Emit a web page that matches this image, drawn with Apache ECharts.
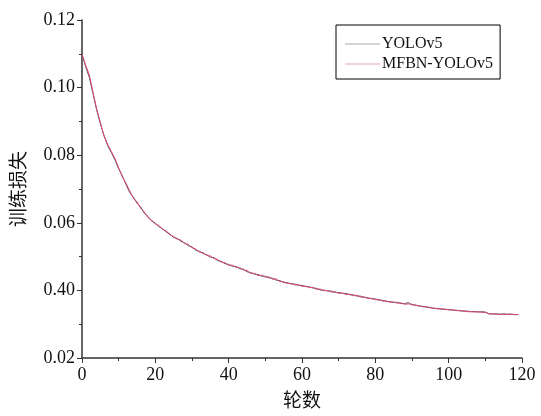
<!DOCTYPE html>
<html>
<head>
<meta charset="utf-8">
<script src="https://cdn.jsdelivr.net/npm/echarts@6/dist/echarts.min.js"></script>
<style>
  html, body { margin: 0; padding: 0; background: #fff; }
  #chart { width: 541px; height: 416px; }
</style>
</head>
<body>
<div id="chart"></div>
<script>
// training loss per epoch
var yolov5 = [
  0.1100, 0.1062, 0.1030, 0.0982, 0.0934, 0.0893, 0.0859, 0.0828, 0.0808, 0.0786,
  0.0760, 0.0739, 0.0713, 0.0690, 0.0676, 0.0658, 0.0647, 0.0628, 0.0619, 0.0605,
  0.0599, 0.0588, 0.0583, 0.0572, 0.0567, 0.0556, 0.0554, 0.0545, 0.0541, 0.0532,
  0.0529, 0.0519, 0.0516, 0.0509, 0.0506, 0.0498, 0.0497, 0.0488, 0.0486, 0.0479,
  0.0477, 0.0471, 0.0471, 0.0464, 0.0463, 0.0455, 0.0453, 0.0448, 0.0447, 0.0442,
  0.0442, 0.0437, 0.0436, 0.0430, 0.0429, 0.0423, 0.0423, 0.0419, 0.0419, 0.0415,
  0.0415, 0.0411, 0.0411, 0.0407, 0.0406, 0.0401, 0.0401, 0.0398, 0.0398, 0.0394,
  0.0394, 0.0391, 0.0391, 0.0387, 0.0387, 0.0383, 0.0383, 0.0379, 0.0378, 0.0375,
  0.0375, 0.0371, 0.0371, 0.0367, 0.0367, 0.0364, 0.0365, 0.0361, 0.0361, 0.0364,
  0.0357, 0.0357, 0.0353, 0.0353, 0.0350, 0.0350, 0.0346, 0.0347, 0.0344, 0.0345,
  0.0342, 0.0343, 0.0340, 0.0341, 0.0338, 0.0339, 0.0337, 0.0338, 0.0336, 0.0337,
  0.0336, 0.0331, 0.0330, 0.0331, 0.0329, 0.0331, 0.0329, 0.0330, 0.0328, 0.0329
];
var mfbnYolov5 = [
  0.1098, 0.1066, 0.1038, 0.0986, 0.0937, 0.0897, 0.0856, 0.0832, 0.0811, 0.0790,
  0.0763, 0.0736, 0.0717, 0.0695, 0.0673, 0.0662, 0.0643, 0.0632, 0.0615, 0.0608,
  0.0596, 0.0592, 0.0580, 0.0576, 0.0564, 0.0560, 0.0551, 0.0549, 0.0538, 0.0536,
  0.0526, 0.0523, 0.0513, 0.0512, 0.0503, 0.0502, 0.0494, 0.0492, 0.0483, 0.0482,
  0.0474, 0.0475, 0.0468, 0.0468, 0.0460, 0.0459, 0.0450, 0.0451, 0.0444, 0.0445,
  0.0439, 0.0440, 0.0433, 0.0434, 0.0426, 0.0426, 0.0420, 0.0421, 0.0416, 0.0417,
  0.0412, 0.0413, 0.0408, 0.0409, 0.0403, 0.0404, 0.0399, 0.0400, 0.0395, 0.0396,
  0.0391, 0.0393, 0.0388, 0.0389, 0.0384, 0.0386, 0.0380, 0.0381, 0.0376, 0.0377,
  0.0372, 0.0373, 0.0368, 0.0369, 0.0365, 0.0366, 0.0362, 0.0363, 0.0359, 0.0360,
  0.0359, 0.0355, 0.0355, 0.0351, 0.0352, 0.0348, 0.0348, 0.0345, 0.0346, 0.0343,
  0.0344, 0.0341, 0.0342, 0.0339, 0.0340, 0.0337, 0.0337, 0.0336, 0.0337, 0.0335,
  0.0335, 0.0330, 0.0331, 0.0329, 0.0330, 0.0328, 0.0330, 0.0329, 0.0329, 0.0328
];
// y tick labels as printed in the original (0.04 is printed as "0.40")
var yTickLabels = ["0.02", "0.40", "0.06", "0.08", "0.10", "0.12"];
var seriesNames = ["YOLOv5", "MFBN-YOLOv5"];

function toPairs(arr) {
  return arr.map(function (v, i) { return [i, v]; });
}

var serif = "Liberation Serif";
var cjk = "Noto Sans CJK SC";
var axisColor = "#333";

var chart = echarts.init(document.getElementById("chart"));
chart.setOption({
  animation: false,
  backgroundColor: "#fff",
  grid: { left: 82, right: 19, top: 20, bottom: 58 },
  legend: {
    show: true,
    orient: "vertical",
    left: 336,
    top: 25,
    padding: [11, 7, 7, 9],
    itemGap: 4,
    itemWidth: 35,
    itemHeight: 1,
    icon: "rect",
    borderColor: "#000",
    borderWidth: 1,
    textStyle: { fontFamily: serif, fontSize: 16, color: "#111", padding: [0, 0, 0, -3] },
    data: [
      { name: "YOLOv5", itemStyle: { color: "#aaa" } },
      { name: "MFBN-YOLOv5", itemStyle: { color: "#e8a6b8" } }
    ]
  },
  xAxis: {
    type: "value",
    min: 0,
    max: 120,
    interval: 20,
    name: "轮数",
    nameLocation: "middle",
    nameGap: 32,
    nameTextStyle: { fontFamily: cjk, fontSize: 19, color: "#111" },
    splitLine: { show: false },
    axisLine: { lineStyle: { color: axisColor, width: 1.5 } },
    axisTick: { inside: false, length: 5, lineStyle: { color: axisColor } },
    minorTick: { show: true, splitNumber: 2, length: 3, lineStyle: { color: axisColor } },
    axisLabel: { fontFamily: serif, fontSize: 18, color: "#111", margin: 8 }
  },
  yAxis: {
    type: "value",
    min: 0.02,
    max: 0.12,
    interval: 0.02,
    name: "训练损失",
    nameLocation: "middle",
    nameGap: 55,
    nameTextStyle: { fontFamily: cjk, fontSize: 19, color: "#111" },
    splitLine: { show: false },
    axisLine: { show: true, lineStyle: { color: axisColor, width: 1.5 } },
    axisTick: { show: true, inside: false, length: 5, lineStyle: { color: axisColor } },
    minorTick: { show: true, splitNumber: 2, length: 3, lineStyle: { color: axisColor } },
    axisLabel: {
      fontFamily: serif,
      fontSize: 18,
      color: "#111",
      margin: 7,
      formatter: function (v) {
        return yTickLabels[Math.round((v - 0.02) / 0.02)];
      }
    }
  },
  series: [
    {
      name: seriesNames[0],
      type: "line",
      symbol: "none",
      lineStyle: { color: "#555", width: 1 },
      itemStyle: { color: "#555" },
      data: toPairs(yolov5)
    },
    {
      name: seriesNames[1],
      type: "line",
      symbol: "none",
      lineStyle: { color: "#e0457a", width: 1 },
      itemStyle: { color: "#e0457a" },
      data: toPairs(mfbnYolov5)
    }
  ]
});
</script>
</body>
</html>
